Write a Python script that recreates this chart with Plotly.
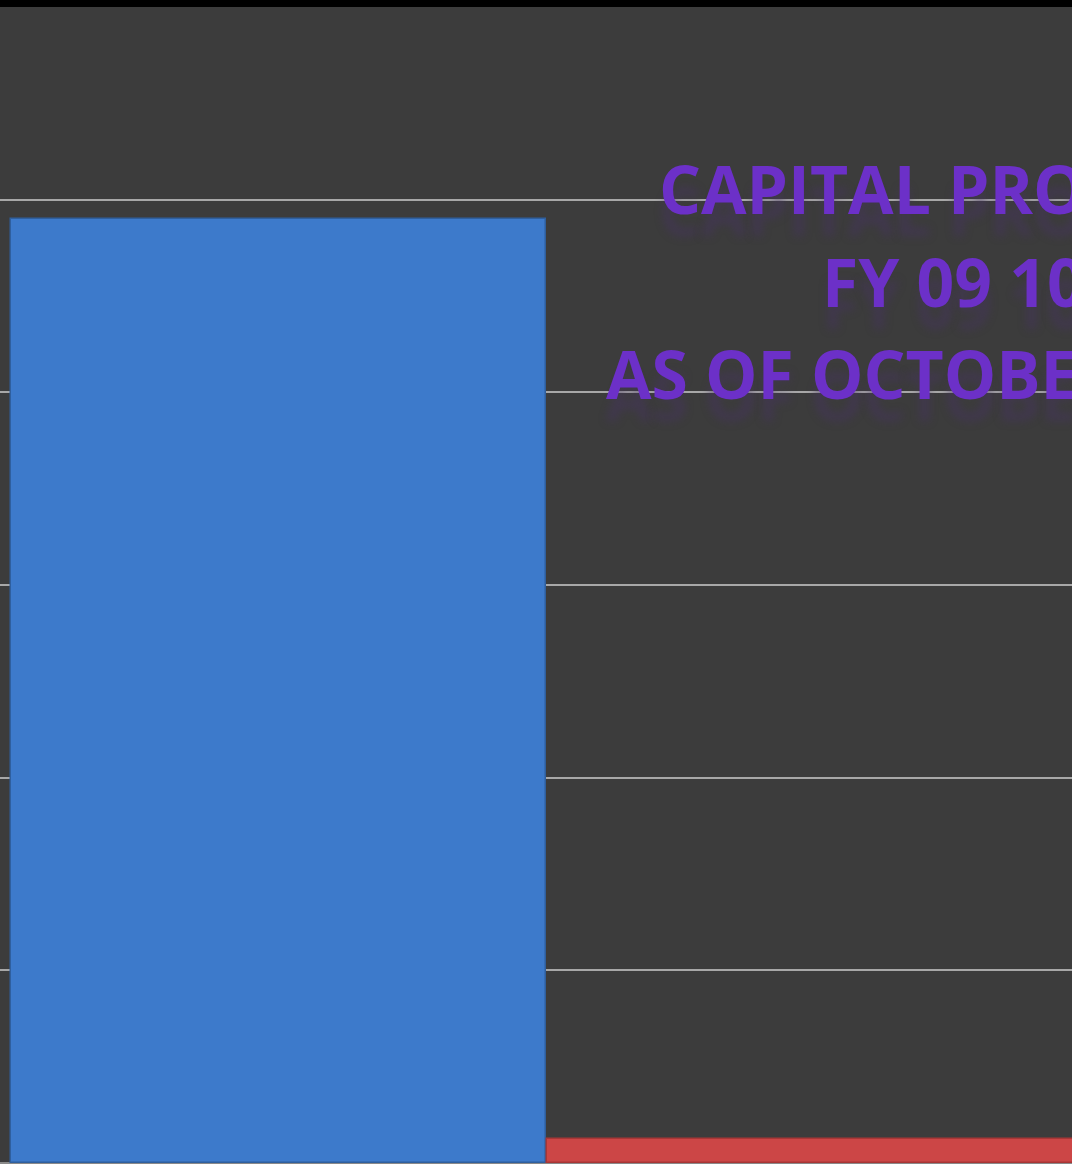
import plotly.graph_objects as go

categories = ["Budget", "Expended"]
values = [4.9, 0.122]
bar_colors = ["#3d7acb", "#cc4646"]
bar_edges = ["#2f5f9e", "#a83636"]
title_lines = ["CAPITAL PROJECTS", "FY 09 10", "AS OF OCTOBER 2009"]
grid_ticks = [0, 1, 2, 3, 4, 5, 6]

W, H = 1072, 1164

fig = go.Figure()
fig.add_trace(go.Bar(
    x=[0, 1], y=values, width=0.998,
    marker=dict(color=bar_colors, line=dict(color=bar_edges, width=1.5)),
    hovertext=categories, showlegend=False,
))

fig.update_layout(
    width=W, height=H,
    margin=dict(l=0, r=0, t=7, b=1, pad=0),
    paper_bgcolor="#000000",
    plot_bgcolor="#3c3c3c",
    bargap=0,
    xaxis=dict(range=[-0.5196, 1.4804], showticklabels=False, showgrid=False,
               zeroline=False, showline=False, ticks=""),
    yaxis=dict(range=[0, 6], tickvals=grid_ticks, showticklabels=False,
               showgrid=True, gridcolor="#a8a8a8", gridwidth=1.5,
               zeroline=True, zerolinecolor="#8a8a8a", zerolinewidth=2,
               showline=False, ticks=""),
    font=dict(family="Open Sans"),
)

# title lines, left edges as in the reference (text runs off the right edge, as in the reference)
title_x = [657, 820, 604]
title_y = [188, 281, 373]
for txt, xp, yp in zip(title_lines, title_x, title_y):
    fig.add_annotation(
        text=txt, xref="paper", yref="paper",
        x=xp / W, y=1 - (yp - 7) / (H - 8),
        xanchor="left", yanchor="middle", showarrow=False,
        font=dict(family="Open Sans", size=66, color="#6c30c8", weight=700,
                  shadow="0px 22px 8px rgba(70,50,100,0.45)"),
    )

fig.write_html(
    "out.html",
    config={"displayModeBar": False},
    post_script="document.body.style.margin='0';document.body.style.overflow='hidden';",
)
